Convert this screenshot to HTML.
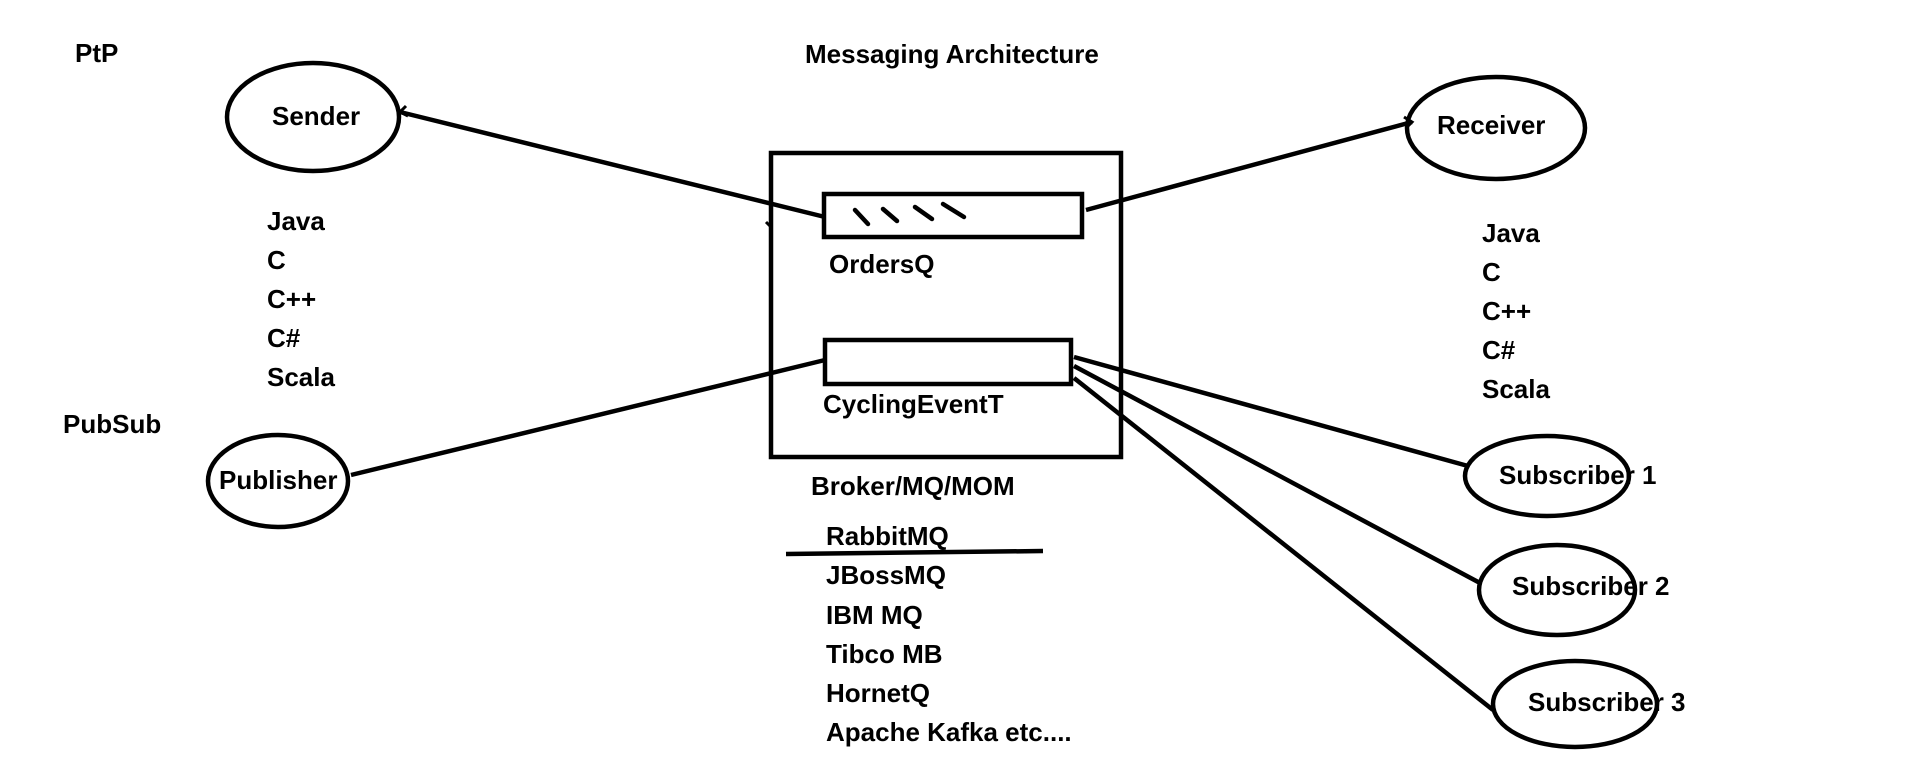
<!DOCTYPE html>
<html><head><meta charset="utf-8"><style>html,body{margin:0;padding:0;background:#fff}svg{display:block}text{font-family:"Liberation Sans",sans-serif;font-weight:bold;font-size:26px;fill:#000;dominant-baseline:middle}</style></head>
<body>
<svg width="1906" height="761" viewBox="0 0 1906 761" xmlns="http://www.w3.org/2000/svg">
<g fill="none" stroke="#000" stroke-width="4.5">
<rect x="771" y="153" width="350" height="304"/>
<rect x="824" y="194" width="258" height="43"/>
<rect x="825" y="340" width="246" height="44"/>
<ellipse cx="313" cy="117" rx="86" ry="54"/>
<ellipse cx="1496" cy="128" rx="89" ry="51"/>
<ellipse cx="278" cy="481" rx="70" ry="46"/>
<ellipse cx="1547" cy="476" rx="82" ry="40"/>
<ellipse cx="1557" cy="590" rx="78" ry="45"/>
<ellipse cx="1575" cy="704" rx="82" ry="43"/>
<line x1="400" y1="112" x2="825" y2="217"/>
<line x1="1086" y1="210" x2="1412" y2="122"/>
<line x1="351" y1="475" x2="825" y2="360"/>
<line x1="1074" y1="357" x2="1468" y2="466"/>
<line x1="1074" y1="366" x2="1480" y2="583"/>
<line x1="1074" y1="378" x2="1493" y2="710"/>
<line x1="786" y1="554" x2="1043" y2="551"/>
<line x1="855" y1="210" x2="868" y2="224" stroke-linecap="round"/>
<line x1="883" y1="209" x2="897" y2="221" stroke-linecap="round"/>
<line x1="915" y1="207" x2="932" y2="219" stroke-linecap="round"/>
<line x1="943" y1="204" x2="964" y2="217" stroke-linecap="round"/>
<polyline points="406,106 400,112 408,116" stroke-width="3"/>
<polyline points="1404,117 1412,122 1406,128" stroke-width="3"/>
<line x1="766" y1="222" x2="770" y2="226" stroke-width="3"/>
</g>
<text x="75" y="55">PtP</text>
<text x="805" y="56">Messaging Architecture</text>
<text x="272" y="118">Sender</text>
<text x="267" y="223">Java</text>
<text x="267" y="262">C</text>
<text x="267" y="301">C++</text>
<text x="267" y="340">C#</text>
<text x="267" y="379">Scala</text>
<text x="1437" y="127">Receiver</text>
<text x="1482" y="235">Java</text>
<text x="1482" y="274">C</text>
<text x="1482" y="313">C++</text>
<text x="1482" y="352">C#</text>
<text x="1482" y="391">Scala</text>
<text x="63" y="426">PubSub</text>
<text x="219" y="482">Publisher</text>
<text x="829" y="266">OrdersQ</text>
<text x="823" y="406">CyclingEventT</text>
<text x="811" y="488">Broker/MQ/MOM</text>
<text x="826" y="538">RabbitMQ</text>
<text x="826" y="577">JBossMQ</text>
<text x="826" y="617">IBM MQ</text>
<text x="826" y="656">Tibco MB</text>
<text x="826" y="695">HornetQ</text>
<text x="826" y="734">Apache Kafka etc....</text>
<text x="1499" y="477">Subscriber 1</text>
<text x="1512" y="588">Subscriber 2</text>
<text x="1528" y="704">Subscriber 3</text>
</svg>
</body></html>
